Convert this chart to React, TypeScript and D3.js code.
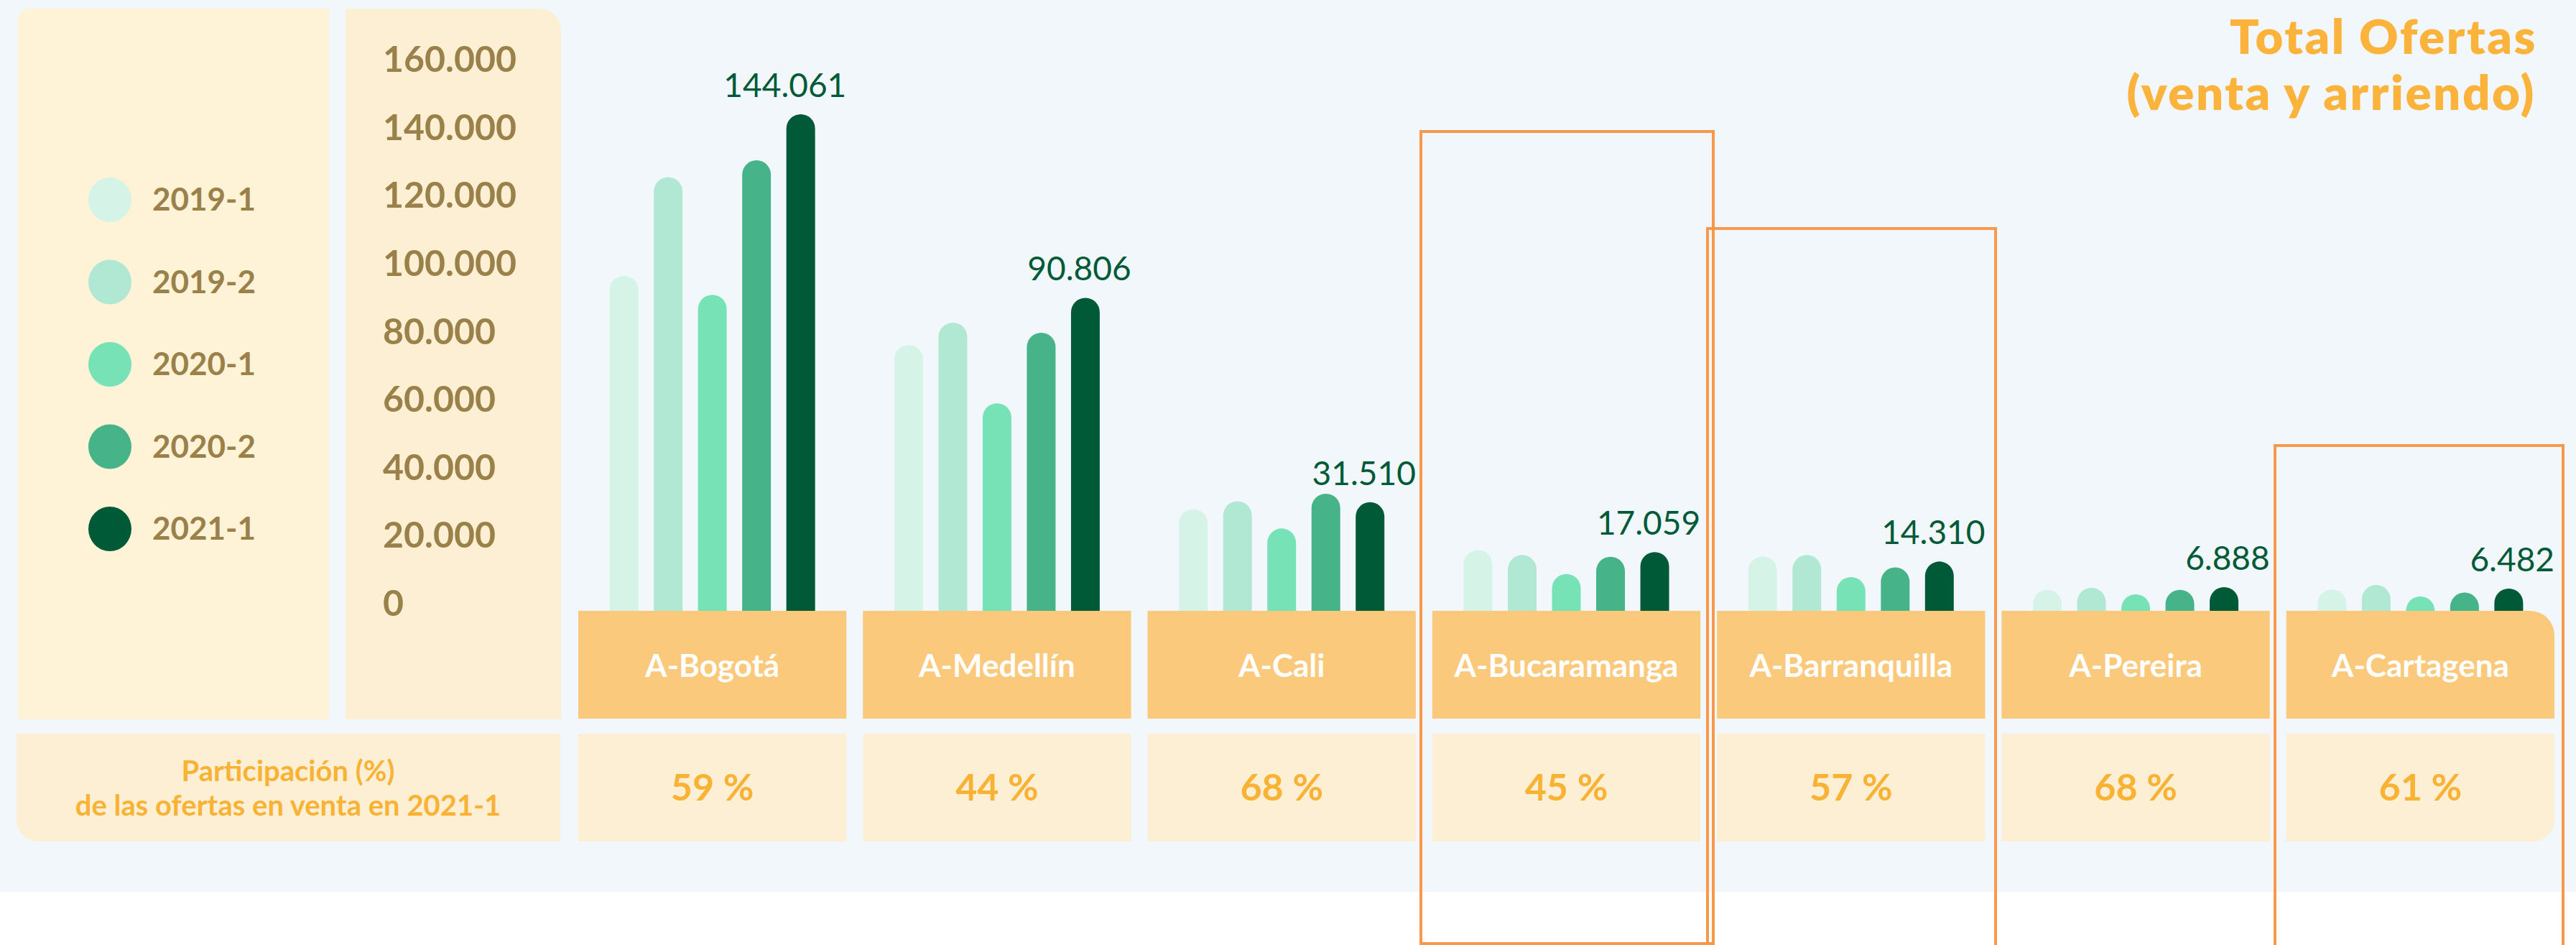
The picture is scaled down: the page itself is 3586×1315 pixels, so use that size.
import React, { useEffect, useRef } from 'react';
import * as d3 from 'd3';

const cities = ['A-Bogotá', 'A-Medellín', 'A-Cali', 'A-Bucaramanga', 'A-Barranquilla', 'A-Pereira', 'A-Cartagena'];
const periods = ['2019-1', '2019-2', '2020-1', '2020-2', '2021-1'];
const periodColors = ['#D6F3E8', '#B1E8D3', '#76E2B6', '#46B388', '#005A37'];

// ofertas por periodo (mismo orden que periods)
const values2019_1 = [97200, 77100, 29500, 17600, 15800, 6100, 6200];
const values2019_2 = [125800, 83600, 31800, 16200, 16200, 6700, 7500];
const values2020_1 = [91700, 60200, 23900, 10700, 9800, 4800, 3900];
const values2020_2 = [130700, 80700, 34000, 15700, 12600, 6100, 5300];
const values2021_1 = [144061, 90806, 31510, 17059, 14310, 6888, 6482];

const participation = ['59 %', '44 %', '68 %', '45 %', '57 %', '68 %', '61 %'];
const yTicks = [0, 20000, 40000, 60000, 80000, 100000, 120000, 140000, 160000];

const W = 3586;
const H = 1315;
const FONT = 'Lato, "Open Sans", sans-serif';

const fmt = (v: number) => d3.format(',')(v).replace(/,/g, '.');

const App: React.FC = () => {
  const svgRef = useRef<SVGSVGElement>(null);

  useEffect(() => {
    if (!svgRef.current) return;
    const svg = d3.select(svgRef.current);
    svg.selectAll('*').remove();

    const series = [values2019_1, values2019_2, values2020_1, values2020_2, values2021_1];

    const base = 850;
    const y = d3.scaleLinear().domain([0, 160000]).range([base, 82.5]);
    const yTick = d3.scaleLinear().domain([0, 160000]).range([839, 82]);
    const x = d3.scaleBand<string>().domain(cities).range([805, 3556]).paddingInner(0.058).paddingOuter(0);
    const bw = x.bandwidth();
    const inner = d3.scaleBand<string>().domain(periods).range([(bw - 286) / 2, (bw + 286) / 2]).paddingInner(0.35);

    // fondo
    svg.append('rect').attr('width', W).attr('height', H).attr('fill', '#ffffff');
    svg.append('rect').attr('width', W).attr('height', 1241).attr('fill', '#F2F7FB');

    const roundRect = (x0: number, y0: number, w: number, h: number, r: [number, number, number, number]) => {
      const [tl, tr, br, bl] = r;
      const p = d3.path();
      p.moveTo(x0 + tl, y0);
      p.lineTo(x0 + w - tr, y0);
      p.arcTo(x0 + w, y0, x0 + w, y0 + tr, tr);
      p.lineTo(x0 + w, y0 + h - br);
      p.arcTo(x0 + w, y0 + h, x0 + w - br, y0 + h, br);
      p.lineTo(x0 + bl, y0 + h);
      p.arcTo(x0, y0 + h, x0, y0 + h - bl, bl);
      p.lineTo(x0, y0 + tl);
      p.arcTo(x0, y0, x0 + tl, y0, tl);
      p.closePath();
      return p.toString();
    };

    // paneles izquierdos
    svg.append('path').attr('d', roundRect(25, 12, 433, 989, [15, 0, 0, 0])).attr('fill', '#FEF2D7');
    svg.append('path').attr('d', roundRect(481, 12, 300, 989, [0, 30, 0, 0])).attr('fill', '#FDEFD4');

    // leyenda
    const leg = svg.append('g');
    periods.forEach((p, i) => {
      const cy = 278 + i * 114.5;
      leg.append('ellipse').attr('cx', 153).attr('cy', cy).attr('rx', 30).attr('ry', 31).attr('fill', periodColors[i]);
      leg.append('text').attr('x', 212).attr('y', cy + 15).text(p)
        .attr('font-family', FONT).attr('font-weight', 700).attr('font-size', 44).attr('fill', '#9A8049');
    });

    // eje y
    svg.append('g').selectAll('text').data(yTicks).join('text')
      .attr('x', 533).attr('y', d => yTick(d)).attr('dy', '0.36em')
      .text(d => fmt(d))
      .attr('font-family', FONT).attr('font-weight', 700).attr('font-size', 50).attr('fill', '#9A8049');

    // barras
    const barPath = (x0: number, w: number, top: number) => {
      const r = w / 2;
      const p = d3.path();
      p.moveTo(x0, base);
      p.lineTo(x0, Math.min(base, top + r));
      p.arc(x0 + r, Math.min(base, top + r), r, Math.PI, 0);
      p.lineTo(x0 + w, base);
      p.closePath();
      return p.toString();
    };

    const groups = svg.append('g').selectAll('g').data(cities).join('g')
      .attr('transform', d => `translate(${x(d)},0)`);

    groups.each(function (city, ci) {
      const g = d3.select(this);
      periods.forEach((p, pi) => {
        const v = series[pi][ci];
        g.append('path').attr('d', barPath(inner(p)!, inner.bandwidth(), y(v))).attr('fill', periodColors[pi]);
      });
      const last = series[4][ci];
      g.append('text').attr('x', bw).attr('y', y(last) - 24).attr('text-anchor', 'end')
        .text(fmt(last))
        .attr('font-family', FONT).attr('font-size', 46).attr('fill', '#005A37');

      const isLast = ci === cities.length - 1;
      g.append('path').attr('d', roundRect(0, base, bw, 150, [0, isLast ? 34 : 0, 0, 0])).attr('fill', '#FBC97B');
      g.append('text').attr('x', bw / 2).attr('y', 942).attr('text-anchor', 'middle').text(city)
        .attr('font-family', FONT).attr('font-weight', 700).attr('font-size', 44).attr('fill', '#ffffff');

      g.append('path').attr('d', roundRect(0, 1021, bw, 150, [0, 0, isLast ? 30 : 0, 0])).attr('fill', '#FDEFD4');
      g.append('text').attr('x', bw / 2).attr('y', 1114).attr('text-anchor', 'middle').text(participation[ci])
        .attr('font-family', FONT).attr('font-weight', 700).attr('font-size', 52).attr('fill', '#F9B233');
    });

    // fila de participación
    svg.append('path').attr('d', roundRect(23, 1021, 757, 150, [0, 0, 0, 30])).attr('fill', '#FDEFD4');
    const pt = svg.append('text').attr('text-anchor', 'middle')
      .attr('font-family', FONT).attr('font-weight', 700).attr('font-size', 40).attr('fill', '#F9B233');
    pt.append('tspan').attr('x', 401).attr('y', 1087).text('Participación (%)');
    pt.append('tspan').attr('x', 401).attr('y', 1135).text('de las ofertas en venta en 2021-1');

    // título
    const title = svg.append('text').attr('text-anchor', 'end')
      .attr('font-family', FONT).attr('font-weight', 800).attr('font-size', 67)
      .attr('letter-spacing', 2.6).attr('fill', '#FBB33B');
    title.append('tspan').attr('x', 3532).attr('y', 75).text('Total Ofertas');
    title.append('tspan').attr('x', 3530).attr('y', 153).text('(venta y arriendo)');

    // recuadros de resaltado
    const boxes = [
      { x0: 1978, y0: 183, x1: 2385, y1: 1313 },
      { x0: 2377, y0: 318, x1: 2778, y1: 1330 },
      { x0: 3167, y0: 620, x1: 3568, y1: 1330 },
    ];
    svg.append('g').selectAll('rect').data(boxes).join('rect')
      .attr('x', d => d.x0).attr('y', d => d.y0)
      .attr('width', d => d.x1 - d.x0).attr('height', d => d.y1 - d.y0)
      .attr('fill', 'none').attr('stroke', '#F7984A').attr('stroke-width', 4);
  }, []);

  return (
    <svg ref={svgRef} width={W} height={H} style={{ position: 'absolute', left: 0, top: 0, display: 'block' }}></svg>
  );
};

export default App;
